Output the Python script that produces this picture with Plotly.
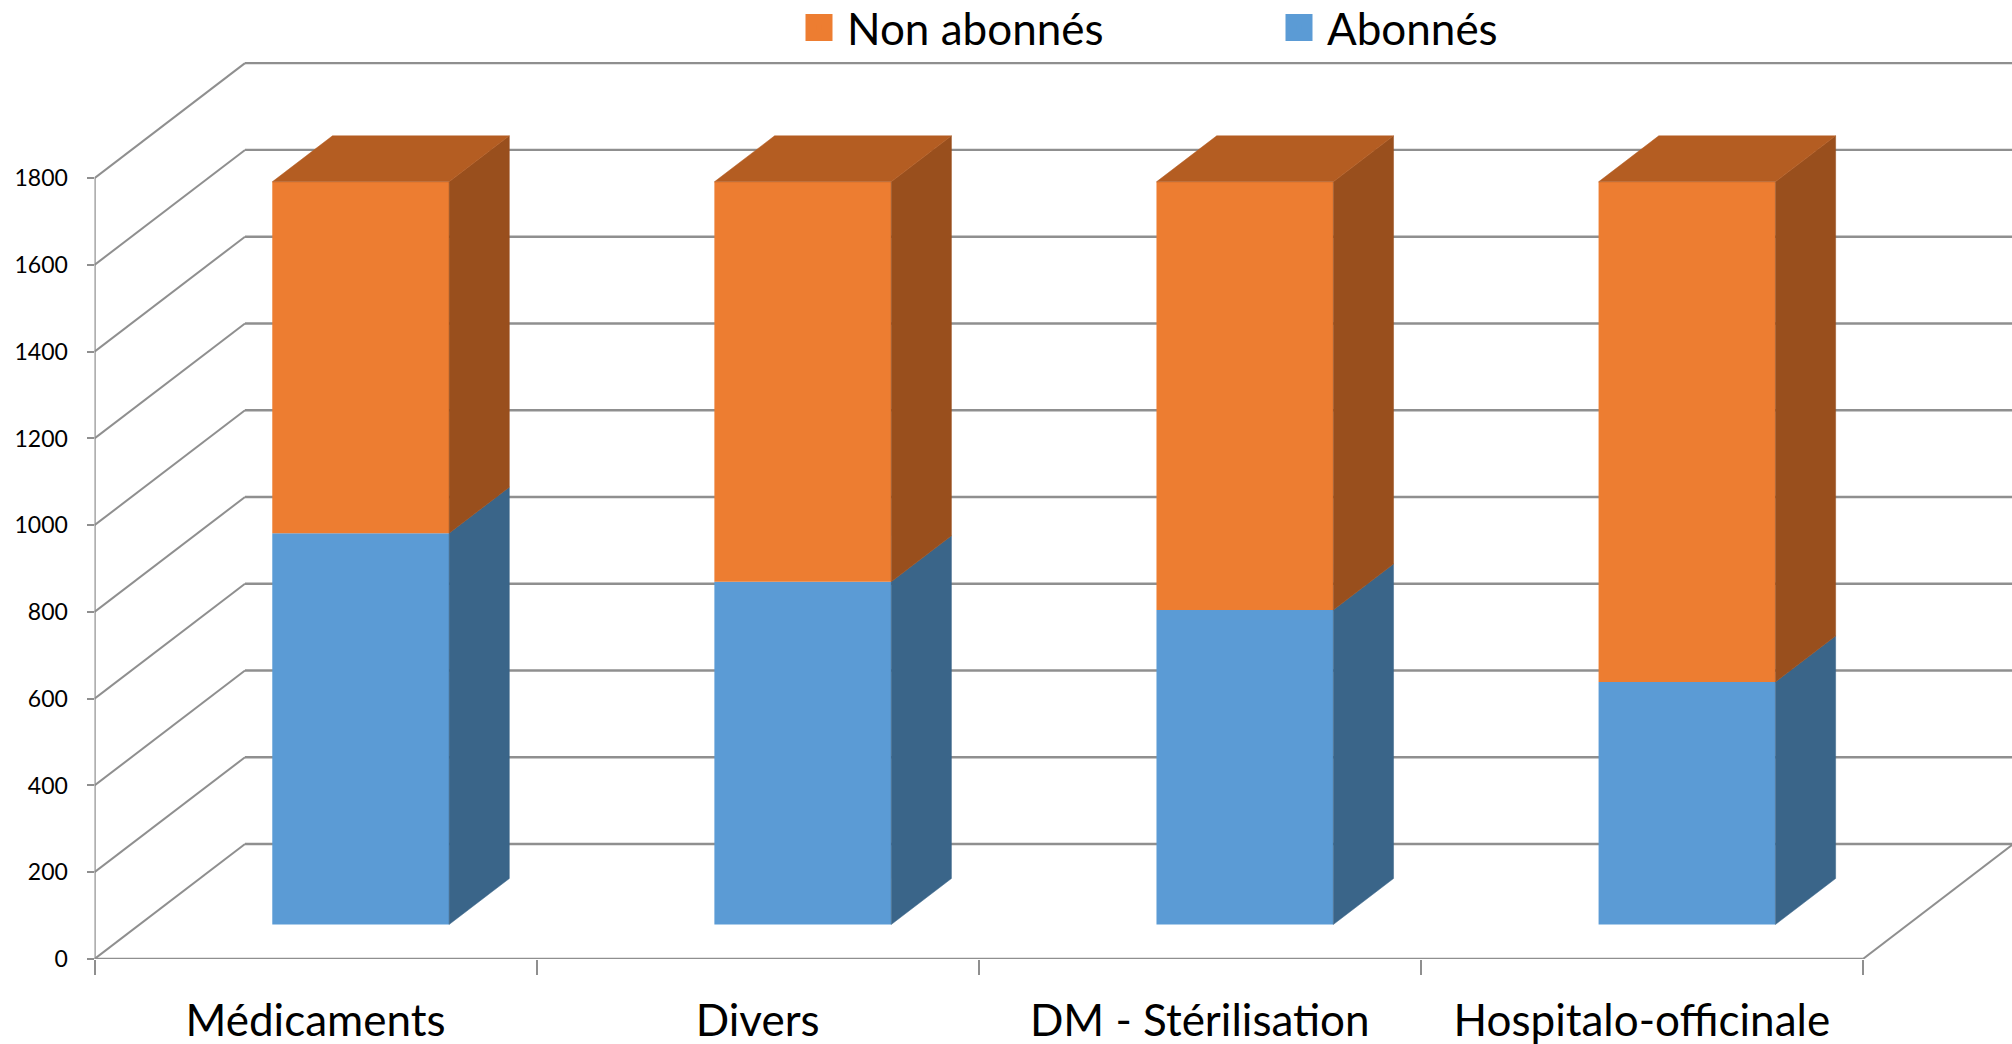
import plotly.graph_objects as go

categories = ["Médicaments", "Divers", "DM - Stérilisation", "Hospitalo-officinale"]
abonnes = [902, 790, 725, 559]
non_abonnes = [810, 922, 987, 1153]
y_ticks = [0, 200, 400, 600, 800, 1000, 1200, 1400, 1600, 1800]

ORANGE, ORANGE_TOP, ORANGE_SIDE = "#ED7D31", "#B45D22", "#994F1D"
BLUE, BLUE_SIDE = "#5B9BD5", "#3A6589"
GRID = "#8F8F8F"
FONT = "Lato"

W, H = 2012, 1044
X0_PX, Y0_PX, CAT_PX = 94.5, 959.0, 442.1
UNIT_PX = 0.4338
DEPTH_X = 150.5 / CAT_PX      # full floor depth, in category units
DEPTH_Y = 115.0 / UNIT_PX     # full floor depth, in value units
BAR_W = 0.4
D_FRONT, D_BACK = 0.3, 0.7


def proj(x, v, d):
    return x + d * DEPTH_X, v + d * DEPTH_Y


def poly(pts, color, name):
    xs, ys = zip(*pts)
    return go.Scatter(x=list(xs) + [xs[0]], y=list(ys) + [ys[0]], mode="lines", fill="toself",
                      fillcolor=color, line=dict(color=color, width=0.5), showlegend=False,
                      hoverinfo="skip", name=name)


fig = go.Figure()
shapes = []
xmin, xmax = -0.5, len(categories) - 0.5
x_right = -0.5 + (W - X0_PX) / CAT_PX

for v in y_ticks:
    x1, y1 = proj(xmin, v, 1)
    shapes.append(dict(type="line", xref="x", yref="y", x0=xmin, y0=v, x1=x1, y1=y1,
                       line=dict(color=GRID, width=2), layer="below"))
    shapes.append(dict(type="line", xref="x", yref="y", x0=x1, y0=y1, x1=x_right, y1=y1,
                       line=dict(color=GRID, width=2.4), layer="below"))
ex, ey = proj(xmax, 0, 1)
shapes.append(dict(type="line", xref="x", yref="y", x0=xmax, y0=0, x1=ex, y1=ey,
                   line=dict(color=GRID, width=2), layer="below"))

# axis frame
fig.add_trace(go.Scatter(x=[xmin, xmin], y=[0, y_ticks[-1]], mode="lines", cliponaxis=False,
                         line=dict(color=GRID, width=2.4), showlegend=False, hoverinfo="skip"))
fig.add_trace(go.Scatter(x=[xmin, xmax], y=[0, 0], mode="lines", cliponaxis=False,
                         line=dict(color=GRID, width=2.4), showlegend=False, hoverinfo="skip"))

lift = D_FRONT * DEPTH_Y
shift = D_FRONT * DEPTH_X
xs = [i + shift for i in range(len(categories))]

fig.add_trace(go.Bar(x=xs, y=abonnes, base=[lift] * 4, width=BAR_W, marker=dict(color=BLUE, line=dict(width=0)),
                     showlegend=False, name="Abonnés"))
fig.add_trace(go.Bar(x=xs, y=non_abonnes, base=[lift + a for a in abonnes], width=BAR_W,
                     marker=dict(color=ORANGE, line=dict(width=0)), showlegend=False, name="Non abonnés"))

for i in range(len(categories)):
    l, r = i - BAR_W / 2, i + BAR_W / 2
    a, t = abonnes[i], abonnes[i] + non_abonnes[i]
    fig.add_trace(poly([proj(r, 0, D_FRONT), proj(r, 0, D_BACK), proj(r, a, D_BACK), proj(r, a, D_FRONT)],
                       BLUE_SIDE, "Abonnés"))
    fig.add_trace(poly([proj(r, a, D_FRONT), proj(r, a, D_BACK), proj(r, t, D_BACK), proj(r, t, D_FRONT)],
                       ORANGE_SIDE, "Non abonnés"))
    fig.add_trace(poly([proj(l, t, D_FRONT), proj(l, t, D_BACK), proj(r, t, D_BACK), proj(r, t, D_FRONT)],
                       ORANGE_TOP, "Non abonnés"))

for nm, col in [("Non abonnés", ORANGE), ("Abonnés", BLUE)]:
    fig.add_trace(go.Scatter(x=[None], y=[None], mode="markers", name=nm,
                             marker=dict(symbol="square", size=16, color=col, line=dict(color=col, width=5))))

fig.update_layout(
    width=W, height=H, margin=dict(l=0, r=0, t=0, b=0, autoexpand=False), paper_bgcolor="white",
    plot_bgcolor="white", barmode="overlay", shapes=shapes, font=dict(family=FONT, color="black"),
    xaxis=dict(domain=[X0_PX / W, 1], range=[-0.5, x_right], tickmode="array",
               tickvals=list(range(len(categories))), ticktext=categories, ticks="",
               tickfont=dict(size=44), ticklabelstandoff=32, showgrid=False, zeroline=False,
               showline=False, automargin=False,
               minor=dict(tickmode="array", tickvals=[i - 0.5 for i in range(len(categories) + 1)],
                          ticks="outside", ticklen=15, tickwidth=1.5, tickcolor=GRID, showgrid=False)),
    yaxis=dict(domain=[(H - Y0_PX) / H, 1], range=[0, Y0_PX / UNIT_PX], tickmode="array", tickvals=y_ticks,
               ticks="outside", ticklen=7, tickwidth=1.5, tickcolor=GRID, tickfont=dict(size=23),
               ticklabelstandoff=14, showgrid=False, zeroline=False, showline=False, automargin=False),
    legend=dict(orientation="h", x=791 / W, xanchor="left", y=1 - 28 / H, yanchor="middle", itemwidth=46,
                font=dict(size=44), entrywidth=419, entrywidthmode="pixels", bgcolor="rgba(0,0,0,0)",
                traceorder="normal"),
)
fig.write_html("out.html", config=dict(displayModeBar=False),
               post_script="document.body.style.margin='0';"
                           "document.querySelectorAll('.legendpoints path').forEach(p=>p.style.strokeWidth='11px');")
